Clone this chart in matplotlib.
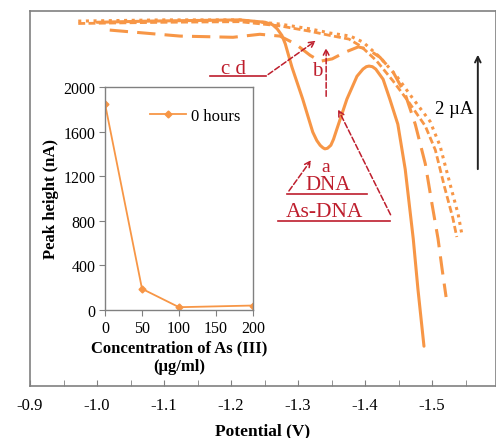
import matplotlib
matplotlib.use("Agg")
import matplotlib.pyplot as plt
from matplotlib.ticker import FixedLocator, MultipleLocator

plt.rcParams['font.family'] = ['Liberation Serif', 'DejaVu Serif']

ORANGE = '#F79646'
RED = '#BE1E2D'
GRAY = '#808080'

# voltammograms: potential (V) and current (uA)
pot_a = [-1.00, -1.079, -1.213, -1.251, -1.262, -1.269, -1.276, -1.281, -1.291, -1.307, -1.322,
         -1.328, -1.333, -1.337, -1.340, -1.344, -1.349, -1.353, -1.358, -1.373, -1.388,
         -1.397, -1.402, -1.406, -1.411, -1.416, -1.427, -1.437, -1.449,
         -1.460, -1.472, -1.479, -1.488]
cur_a = [-0.02, 0.0, 0.02, -0.02, -0.06, -0.13, -0.24, -0.38, -0.77, -1.30, -1.85,
         -1.99, -2.07, -2.11, -2.13, -2.12, -2.07, -1.97, -1.80, -1.30, -0.92,
         -0.80, -0.76, -0.75, -0.76, -0.80, -0.97, -1.30, -1.72,
         -2.47, -3.63, -4.47, -5.42]

pot_b = [-1.019, -1.124, -1.203, -1.243, -1.273, -1.296, -1.318, -1.333, -1.351, -1.370,
         -1.390, -1.404, -1.422, -1.442, -1.460, -1.475, -1.490, -1.500, -1.509, -1.515, -1.521]
cur_b = [-0.15, -0.25, -0.27, -0.22, -0.25, -0.38, -0.57, -0.67, -0.63, -0.52,
         -0.43, -0.47, -0.60, -0.85, -1.22, -1.72, -2.38, -3.05, -3.63, -4.13, -4.60]

pot_c = [-0.972, -1.10, -1.213, -1.273, -1.318, -1.348, -1.378, -1.397, -1.422, -1.448,
         -1.470, -1.497, -1.512, -1.527, -1.539, -1.545]
cur_c = [0.0, 0.02, 0.02, -0.05, -0.13, -0.20, -0.25, -0.35, -0.60, -0.93,
         -1.27, -1.67, -2.08, -2.72, -3.22, -3.58]

pot_d = [-0.972, -1.10, -1.213, -1.273, -1.318, -1.348, -1.376, -1.394, -1.417, -1.442,
         -1.464, -1.490, -1.505, -1.519, -1.531, -1.537]
cur_d = [-0.04, -0.02, -0.01, -0.08, -0.17, -0.24, -0.30, -0.42, -0.66, -1.00,
         -1.33, -1.75, -2.15, -2.78, -3.28, -3.60]

# inset: peak height vs As(III) concentration
conc = [0, 50, 100, 200]
peak = [1850, 190, 25, 40]

main_ticks = [-0.9, -1.0, -1.1, -1.2, -1.3, -1.4, -1.5]

fig = plt.figure(figsize=(4.96, 4.39), dpi=100)
ax = fig.add_axes([0.0605, 0.1185, 0.9395, 0.854])

ax.plot(pot_a, cur_a, color=ORANGE, lw=2.2, solid_capstyle='round')
ax.plot(pot_b, cur_b, color=ORANGE, lw=2.2, dashes=(6, 3))
ax.plot(pot_d, cur_d, color=ORANGE, lw=2.0, dashes=(2.5, 1.2))
ax.plot(pot_c, cur_c, color=ORANGE, lw=2.2, dashes=(1, 1.5))

ax.set_xlim(-0.9, -1.5955)
ax.set_ylim(-6.083, 0.167)
ax.xaxis.set_major_locator(FixedLocator(main_ticks))
ax.xaxis.set_minor_locator(MultipleLocator(0.05))
ax.set_xticklabels(['%.1f' % t for t in main_ticks])
ax.set_yticks([])
ax.tick_params(axis='x', which='both', direction='in', length=4, color=GRAY,
               labelsize=12, pad=8)
for s in ax.spines.values():
    s.set_color(GRAY)
    s.set_linewidth(1.2)
ax.set_xlabel('Potential (V)', fontsize=12.5, fontweight='bold', labelpad=7)

# scale bar
ax.annotate('', xy=(0.961, 0.891), xytext=(0.961, 0.571), xycoords='axes fraction',
            arrowprops=dict(arrowstyle='->', color='#222222', lw=1.4))
ax.text(0.951, 0.739, '2 µA', transform=ax.transAxes, ha='right', va='center', fontsize=13.5)

# labels and arrows
arw = dict(arrowstyle='->', color=RED, lw=1.1, linestyle='--')
ax.text(-1.203, -0.79, 'c d', color=RED, fontsize=15, ha='center', va='center')
ax.plot([-1.169, -1.252], [-0.917, -0.917], color=RED, lw=1.2)
ax.annotate('', xy=(-1.330, -0.30), xytext=(-1.252, -0.917), arrowprops=arw)
ax.text(-1.328, -0.83, 'b', color=RED, fontsize=15, ha='center', va='center')
ax.annotate('', xy=(-1.342, -0.40), xytext=(-1.342, -1.30), arrowprops=arw)
ax.text(-1.341, -2.43, 'a', color=RED, fontsize=14, ha='center', va='center')
ax.annotate('', xy=(-1.322, -2.28), xytext=(-1.284, -2.87), arrowprops=arw)
ax.text(-1.345, -2.73, 'DNA', color=RED, fontsize=15, ha='center', va='center')
ax.plot([-1.284, -1.403], [-2.88, -2.88], color=RED, lw=1.2)
ax.text(-1.340, -3.18, 'As-DNA', color=RED, fontsize=15.5, ha='center', va='center')
ax.plot([-1.270, -1.437], [-3.33, -3.33], color=RED, lw=1.2)
ax.annotate('', xy=(-1.358, -1.43), xytext=(-1.440, -3.27), arrowprops=arw)

# inset
ins = fig.add_axes([0.2117, 0.2916, 0.2984, 0.508])
ins.plot(conc, peak, color=ORANGE, lw=1.3, marker='D', ms=3.5, label='0 hours')
ins.set_xlim(0, 200)
ins.set_ylim(0, 2000)
ins.set_xticks([0, 50, 100, 150, 200])
ins.set_yticks([0, 400, 800, 1200, 1600, 2000])
ins.tick_params(direction='out', length=4, color=GRAY, labelsize=11.5, pad=3)
for s in ins.spines.values():
    s.set_color(GRAY)
    s.set_linewidth(1.0)
ins.set_ylabel('Peak height (nA)', fontsize=12, fontweight='bold', labelpad=3)
ins.set_xlabel('Concentration of As (III)\n(µg/ml)', fontsize=12, fontweight='bold',
               labelpad=3, linespacing=1.15)
ins.legend(loc='center left', bbox_to_anchor=(0.2, 0.87), frameon=False, fontsize=12,
           handlelength=2.2, handletextpad=0.3)

fig.savefig('out.png', dpi=100)
